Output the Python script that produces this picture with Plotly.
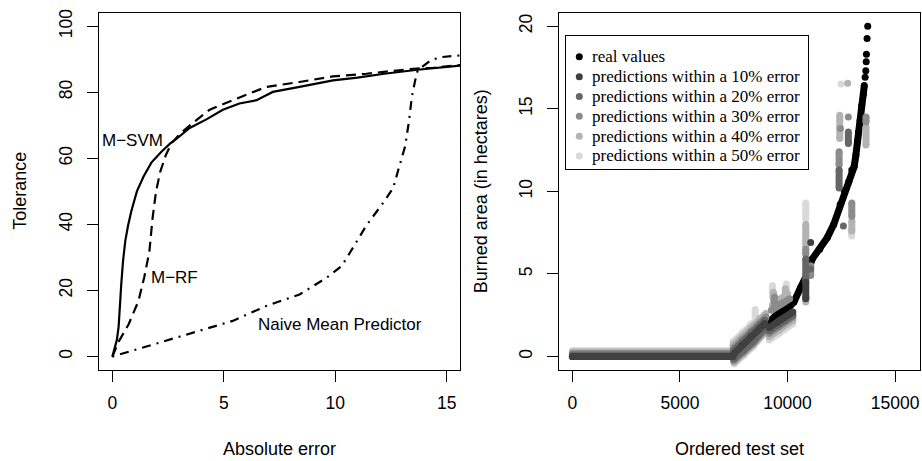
import plotly.graph_objects as go

# ---------------- Left panel: REC curves ----------------
svm_x = [0, 0.1, 0.2, 0.28, 0.33, 0.4, 0.48, 0.58, 0.7, 0.85, 1.1, 1.4, 1.75, 2.2, 2.6, 2.9,
         3.47, 4.2, 4.96, 5.7, 6.47, 7.2, 8.4, 9.9, 11.0, 12.2, 13.7, 15.7]
svm_y = [0, 2.5, 5, 9, 15, 22, 29, 35, 39.5, 44, 50, 54.5, 58.7, 62, 64.5, 66,
         69.2, 71.7, 74.7, 76.6, 77.6, 80.1, 81.6, 83.6, 84.4, 85.6, 86.8, 88.1]

rf_x = [0, 0.28, 0.73, 1.17, 1.43, 1.66, 1.8, 1.96, 2.15, 2.4, 2.65, 3.0, 3.6, 4.37, 5.4,
        6.9, 8.4, 9.9, 11.4, 12.9, 13.5, 14.4, 15.7]
rf_y = [0, 4.5, 9.8, 16.8, 24, 31.7, 41.7, 50, 56, 61, 64.5, 67.2, 70.7, 74.7, 77.6,
        81.6, 83.1, 84.8, 85.6, 86.6, 87.1, 87.4, 88.3]

naive_x = [0, 0.9, 2.4, 3.9, 5.4, 6.9, 8.4, 9.6, 10.3, 10.8, 11.4, 12.17, 12.6, 12.84,
           13.14, 13.32, 13.44, 13.59, 13.7, 14.27, 14.7, 15.7]
naive_y = [0, 1.8, 4.8, 7.8, 10.8, 15.3, 18.8, 23.8, 27.5, 33, 39.7, 46.7, 51, 56.7,
           63.7, 71.7, 78.7, 83.6, 86.6, 89.6, 90.6, 91.2]

left_labels = ["M\u2212SVM", "M\u2212RF", "Naive Mean Predictor"]
left_label_x = [0.9, 2.79, 10.2]
left_label_y = [65.5, 24.0, 9.6]

left_xticks = [0, 5, 10, 15]
left_yticks = [0, 20, 40, 60, 80, 100]

# ---------------- Right panel: ordered test set ----------------
real_x = [0, 7480, 7950, 8415, 8900, 9500, 10040, 10300, 10600, 10900, 11150, 11500,
          11850, 12150, 12450, 12650, 12850, 12990, 13100, 13180, 13250, 13300, 13380,
          13450, 13530, 13570]
real_y = [0, 0, 0.55, 1.15, 1.9, 2.55, 2.95, 3.3, 4.15, 4.95, 5.9, 6.5,
          7.2, 8.0, 9.2, 10.0, 10.6, 11.3, 11.5, 12.2, 13.0, 13.6, 14.3,
          15.2, 15.9, 16.4]
real_top_x = [13610, 13640, 13660, 13670, 13700, 13730]
real_top_y = [16.9, 17.3, 17.85, 18.3, 19.25, 20.0]

# predictions (None separates groups of points)
p50_x = [0, 7430, None,
         7470, 7900, 8300, 8500, 8500, None,
         7520, 7950, 8400, 8850, None,
         9150, 9600, 10250, None,
         9300, 9300, None, 9950, 9950, None,
         10850, 10850, None, 12490, None, 12980, 12980]
p50_y = [0.36, 0.36, None,
         0.9, 1.45, 1.95, 2.15, 2.85, None,
         -0.45, 0.05, 0.6, 1.3, None,
         1.0, 1.4, 2.0, None,
         3.6, 4.3, None, 3.9, 4.4, None,
         8.3, 9.3, None, 16.5, None, 7.3, 7.6]

p40_x = [0, 7440, None,
         7470, 7900, 8300, 8700, 9000, None,
         7510, 7950, 8400, 8880, None,
         9150, 9600, 10250, None,
         9300, 9700, 10000, None,
         9350, 9350, None, 9900, 9900, None,
         10850, 10850, None, 12800, None,
         12430, 12430, None, 13650, 13650, None, 12990, 12990, None, 10850, 10850]
p40_y = [0.27, 0.27, None,
         0.7, 1.25, 1.75, 2.3, 2.6, None,
         -0.35, 0.15, 0.7, 1.4, None,
         1.2, 1.6, 2.2, None,
         3.1, 3.5, 3.8, None,
         3.3, 3.9, None, 3.4, 4.1, None,
         6.6, 8.0, None, 16.55, None,
         13.2, 14.6, None, 12.8, 13.9, None, 7.6, 8.2, None, 3.3, 3.6]

p30_x = [0, 7450, None,
         7480, 7900, 8300, 8700, 9000, None,
         7500, 7950, 8400, 8880, None,
         9150, 9600, 10250, None,
         9250, 9700, 10100, None,
         9400, 9400, None,
         10850, 10850, None, 11080, 11080, None, 12400, 12400, None, 12830, None,
         12990, 12990, None, 13650, 13650, None, 12460]
p30_y = [0.18, 0.18, None,
         0.5, 1.05, 1.55, 2.05, 2.4, None,
         -0.25, 0.25, 0.8, 1.5, None,
         1.4, 1.8, 2.4, None,
         2.8, 3.2, 3.5, None,
         3.0, 3.6, None,
         6.2, 6.5, None, 4.9, 5.5, None, 11.6, 12.4, None, 14.5, None,
         8.5, 9.3, None, 14.2, 14.5, None, 13.8]

p20_x = [0, 7460, None,
         7490, 7900, 8300, 8700, 8950, None,
         7500, 7950, 8400, 8860, None,
         9150, 9600, 10250, None,
         10850, 10850, None, 12400, 12400, None, 12830, 12830, None, 12600, None, 11080]
p20_y = [0.09, 0.09, None,
         0.35, 0.9, 1.4, 1.85, 2.2, None,
         -0.15, 0.35, 0.9, 1.6, None,
         1.55, 1.95, 2.5, None,
         4.6, 5.9, None, 10.2, 11.3, None, 12.9, 13.6, None, 7.9, None, 5.3]

p10_x = [0, 7470, None,
         7500, 7900, 8300, 8700, 8950, None,
         9150, 9600, 10250, None,
         10850, 10850, None, 11080]
p10_y = [0.0, 0.0, None,
         0.15, 0.7, 1.2, 1.7, 2.0, None,
         1.75, 2.15, 2.7, None,
         3.5, 4.5, None, 6.9]

right_xticks = [0, 5000, 10000, 15000]
right_xticklabels = ["0", "5000", "10000", "15000"]
right_yticks = [0, 5, 10, 15, 20]

legend_labels = ["real values",
                 "predictions within a 10% error",
                 "predictions within a 20% error",
                 "predictions within a 30% error",
                 "predictions within a 40% error",
                 "predictions within a 50% error"]
legend_colors = ["#000000", "#404040", "#666666", "#8c8c8c", "#b3b3b3", "#d9d9d9"]

# ---------------- Figure ----------------
SANS = "Liberation Sans, Arial, sans-serif"
SERIF = "Liberation Serif, Times New Roman, serif"

fig = go.Figure()

fig.add_trace(go.Scatter(x=svm_x, y=svm_y, mode="lines",
                         line=dict(color="black", width=2.2),
                         xaxis="x", yaxis="y", showlegend=False, hoverinfo="skip"))
fig.add_trace(go.Scatter(x=rf_x, y=rf_y, mode="lines",
                         line=dict(color="black", width=2.2, dash="10px,6px"),
                         xaxis="x", yaxis="y", showlegend=False, hoverinfo="skip"))
fig.add_trace(go.Scatter(x=naive_x, y=naive_y, mode="lines",
                         line=dict(color="black", width=2.2, dash="2px,6px,9px,6px"),
                         xaxis="x", yaxis="y", showlegend=False, hoverinfo="skip"))

MS = 7
fig.add_trace(go.Scatter(x=real_x, y=real_y, mode="lines+markers",
                         line=dict(color="#000000", width=MS),
                         marker=dict(color="#000000", size=MS),
                         xaxis="x2", yaxis="y2", showlegend=False, hoverinfo="skip"))
fig.add_trace(go.Scatter(x=real_top_x, y=real_top_y, mode="markers",
                         marker=dict(color="#000000", size=MS),
                         xaxis="x2", yaxis="y2", showlegend=False, hoverinfo="skip"))

pred_series = [(p50_x, p50_y, legend_colors[5]),
               (p40_x, p40_y, legend_colors[4]),
               (p30_x, p30_y, legend_colors[3]),
               (p20_x, p20_y, legend_colors[2]),
               (p10_x, p10_y, legend_colors[1])]
for px, py, col in pred_series:
    fig.add_trace(go.Scatter(x=px, y=py, mode="lines+markers",
                             line=dict(color=col, width=MS),
                             marker=dict(color=col, size=MS),
                             connectgaps=False,
                             xaxis="x2", yaxis="y2", showlegend=False, hoverinfo="skip"))

# legend keys on a helper axis
n_leg = len(legend_labels)
fig.add_trace(go.Scatter(x=[13.3] * n_leg, y=list(range(n_leg)), mode="markers",
                         marker=dict(color=legend_colors, size=MS),
                         xaxis="x3", yaxis="y3", showlegend=False, hoverinfo="skip"))

annotations = []
for t, xx, yy in zip(left_labels, left_label_x, left_label_y):
    annotations.append(dict(text=t, x=xx, y=yy, xref="x", yref="y", showarrow=False,
                            xanchor="center", yanchor="middle",
                            font=dict(family=SANS, size=17, color="black")))
for i, t in enumerate(legend_labels):
    annotations.append(dict(text=t, x=24, y=i, xref="x3", yref="y3", showarrow=False,
                            xanchor="left", yanchor="middle",
                            font=dict(family=SERIF, size=17, color="black")))
# axis titles
title_font = dict(family=SANS, size=18, color="black")
annotations += [
    dict(text="Absolute error", x=279.5 / 922, y=1 - 449 / 461, xref="paper", yref="paper",
         xanchor="center", yanchor="middle", showarrow=False, font=title_font),
    dict(text="Ordered test set", x=739.5 / 922, y=1 - 449 / 461, xref="paper", yref="paper",
         xanchor="center", yanchor="middle", showarrow=False, font=title_font),
    dict(text="Tolerance", x=20.5 / 922, y=1 - 189 / 461, xref="paper", yref="paper",
         xanchor="center", yanchor="middle", textangle=-90, showarrow=False, font=title_font),
    dict(text="Burned area (in hectares)", x=481 / 922, y=1 - 189 / 461, xref="paper",
         yref="paper", xanchor="center", yanchor="middle", textangle=-90, showarrow=False,
         font=title_font),
]

axis_common = dict(showline=True, mirror=True, linecolor="black", linewidth=1,
                   ticks="outside", ticklen=11, tickwidth=1, tickcolor="black",
                   showgrid=False, zeroline=False,
                   tickfont=dict(family=SANS, size=17.5, color="black"))

ydom = [1 - 369 / 461, 1 - 9 / 461]
fig.update_layout(
    width=922, height=461,
    margin=dict(l=0, r=0, t=0, b=0),
    paper_bgcolor="white", plot_bgcolor="white",
    showlegend=False,
    xaxis=dict(domain=[99 / 922, 460 / 922], range=[-0.6, 15.6], anchor="y",
               tickvals=left_xticks, ticklabelstandoff=6, **axis_common),
    yaxis=dict(domain=ydom, range=[-4, 104], anchor="x", tickangle=-90,
               tickvals=left_yticks, ticklabelstandoff=8, **axis_common),
    xaxis2=dict(domain=[559 / 922, 920 / 922], range=[-620, 16160], anchor="y2",
                tickvals=right_xticks, ticktext=right_xticklabels, ticklabelstandoff=6,
                **axis_common),
    yaxis2=dict(domain=ydom, range=[-0.8, 20.8], anchor="x2", tickangle=-90,
                tickvals=right_yticks, ticklabelstandoff=8, **axis_common),
    xaxis3=dict(domain=[566 / 922, 808.3 / 922], range=[0, 242.3], anchor="y3",
                showline=True, mirror=True, linecolor="black", linewidth=1,
                showticklabels=False, ticks="", showgrid=False, zeroline=False),
    yaxis3=dict(domain=[1 - 166.7 / 461, 1 - 32.7 / 461], range=[5.67, -1.03], anchor="x3",
                showline=True, mirror=True, linecolor="black", linewidth=1,
                showticklabels=False, ticks="", showgrid=False, zeroline=False),
    annotations=annotations,
)

fig.write_html("out.html", config={"displayModeBar": False},
               post_script="document.body.style.margin='0px';document.body.style.padding='0px';")
